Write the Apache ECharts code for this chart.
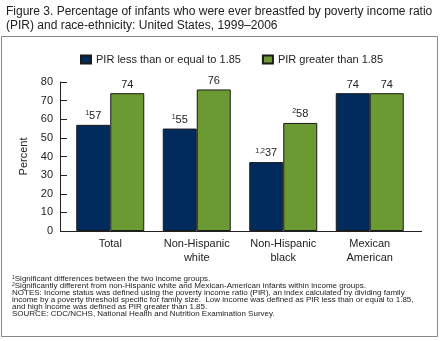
<!DOCTYPE html>
<html><head><meta charset="utf-8">
<script src="https://cdn.jsdelivr.net/npm/echarts@6/dist/echarts.min.js"></script>
<style>html,body{margin:0;padding:0;background:#fff}#c{width:440px;height:341px}</style>
</head><body><div id="c"></div>
<script>
const categories = ['Total', 'Non-Hispanic\nwhite', 'Non-Hispanic\nblack', 'Mexican\nAmerican'];
const lowPIR = [57, 55, 37, 74];
const lowPIRSup = ['1', '1', '1,2', ''];
const highPIR = [74, 76, 58, 74];
const highPIRSup = ['', '', '2', ''];
const yTicks = [0, 10, 20, 30, 40, 50, 60, 70, 80];
const seriesNames = ['PIR less than or equal to 1.85', 'PIR greater than 1.85'];

const FONT = '"Liberation Sans", Arial, sans-serif';
const chart = echarts.init(document.getElementById('c'), null, {renderer: 'canvas'});

function labelFmt(sups) {
  return p => (sups[p.dataIndex] ? '{s|' + sups[p.dataIndex] + '}' : '') + '{v|' + p.value + '}';
}
const labelCfg = sups => ({
  show: true, position: 'top', distance: 3, formatter: labelFmt(sups),
  rich: {
    s: {fontSize: 7, fontFamily: FONT, color: '#222', verticalAlign: 'top', padding: [0, 0, 5, 0]},
    v: {fontSize: 11, fontFamily: FONT, color: '#222'}
  }
});

chart.setOption({
  animation: false,
  textStyle: {fontFamily: FONT},
  title: {
    text: 'Figure 3. Percentage of infants who were ever breastfed by poverty income ratio\n(PIR) and race-ethnicity: United States, 1999\u20132006',
    left: 1, top: 0,
    textStyle: {fontSize: 12, fontWeight: 'normal', color: '#222', lineHeight: 14, fontFamily: FONT}
  },
  legend: {
    data: seriesNames, left: 75, top: 49, itemWidth: 10, itemHeight: 8, itemGap: 21,
    icon: 'rect',
    textStyle: {fontSize: 11, color: '#222', fontFamily: FONT}
  },
  grid: {left: 67, right: 27, top: 82, bottom: 110},
  xAxis: {
    type: 'category', data: categories,
    axisLine: {show: false}, axisTick: {show: false},
    axisLabel: {margin: 6, fontSize: 11, color: '#222', lineHeight: 14, fontFamily: FONT, interval: 0}
  },
  yAxis: {
    type: 'value', min: 0, max: 80, interval: 10, offset: 7,
    name: 'Percent', nameLocation: 'middle', nameGap: 23,
    nameTextStyle: {fontSize: 11, color: '#222', fontFamily: FONT},
    axisLine: {show: true, lineStyle: {color: '#222', width: 1}},
    axisTick: {show: true, inside: true, length: 7, lineStyle: {color: '#222'}},
    axisLabel: {margin: 7, fontSize: 11, color: '#222', fontFamily: FONT,
      formatter: v => yTicks.includes(v) ? String(v) : ''},
    splitLine: {show: false}
  },
  series: [
    {name: seriesNames[0], type: 'bar', data: lowPIR, barWidth: 34, barGap: '0%',
     itemStyle: {color: '#002b5c', borderColor: '#1a1a1a', borderWidth: 1},
     label: labelCfg(lowPIRSup)},
    {name: seriesNames[1], type: 'bar', data: highPIR, barWidth: 34,
     itemStyle: {color: '#6b9a32', borderColor: '#1a1a1a', borderWidth: 1},
     label: labelCfg(highPIRSup)}
  ],
  graphic: [
    {type: 'rect', shape: {x: 1.5, y: 36.5, width: 436, height: 300}, style: {fill: 'none', stroke: '#888', lineWidth: 1}, z: -1},
    {type: 'line', shape: {x1: 60, y1: 231.5, x2: 422, y2: 231.5}, style: {stroke: '#222', lineWidth: 1}},
    {type: 'text', left: 12, top: 275, style: {
      text: '{s|1}Significant differences between the two income groups.\n' +
            '{s|2}Significantly different from non-Hispanic white and Mexican-American infants within income groups.\n' +
            'NOTES: Income status was defined using the poverty income ratio (PIR), an index calculated by dividing family\n' +
            'income by a poverty threshold specific for family size.  Low income was defined as PIR less than or equal to 1.85,\n' +
            'and high income was defined as PIR greater than 1.85.\n' +
            'SOURCE: CDC/NCHS, National Health and Nutrition Examination Survey.',
      font: '8px ' + FONT, fill: '#222', lineHeight: 7,
      rich: {s: {fontSize: 5, fontFamily: FONT, fill: '#222', verticalAlign: 'top', lineHeight: 7}}
    }}
  ]
});
</script></body></html>
